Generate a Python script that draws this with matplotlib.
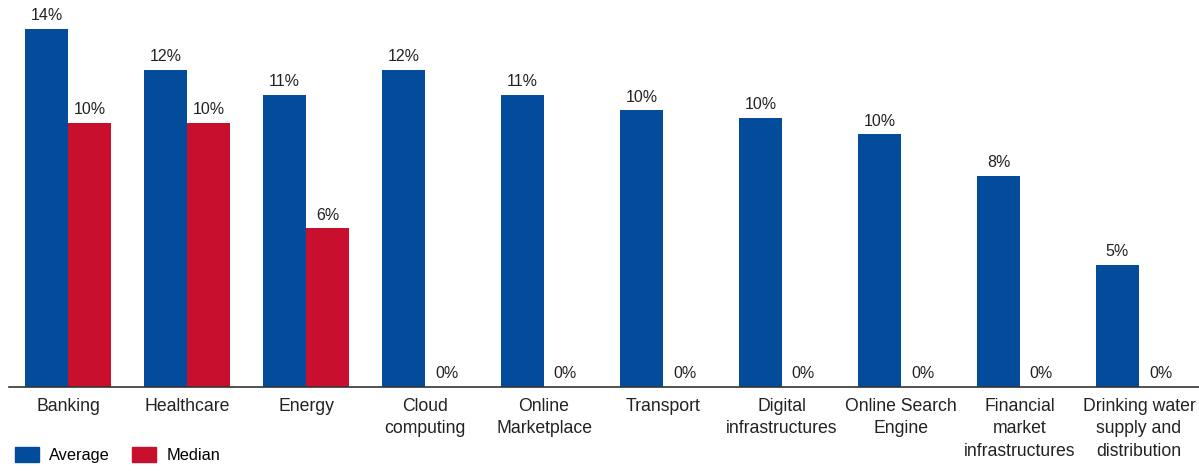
import matplotlib
matplotlib.use("Agg")
import matplotlib.pyplot as plt
import numpy as np
from matplotlib.patches import Patch

categories = ["Banking", "Healthcare", "Energy", "Cloud\ncomputing", "Online\nMarketplace",
              "Transport", "Digital\ninfrastructures", "Online Search\nEngine",
              "Financial\nmarket\ninfrastructures", "Drinking water\nsupply and\ndistribution"]
average = [13.54, 12.0, 11.06, 12.0, 11.06, 10.47, 10.17, 9.56, 7.98, 4.61]
median = [10.0, 10.0, 6.0, 0, 0, 0, 0, 0, 0, 0]

BLUE = "#034B9B"
RED = "#C8102E"

plt.rcParams['font.family'] = ['Liberation Sans', 'DejaVu Sans']

W, H = 1199, 471
fig = plt.figure(figsize=(W/100, H/100), dpi=100)
base = 386.5
ax = fig.add_axes([8.5/W, (H-base)/H, 1190/W, base/H])

x = np.arange(len(categories))
bw = 43/119
ax.bar(x - bw/2, average, width=bw, color=BLUE, label="Average")
ax.bar(x + bw/2, median, width=bw, color=RED, label="Median")

for xi, v in zip(x, average):
    ax.annotate(f"{v:.0f}%", (xi - bw/2, v), xytext=(0, 4), textcoords="offset points",
                ha="center", va="bottom", fontsize=11.5, color="#222222")
for xi, v in zip(x, median):
    ax.annotate(f"{v:.0f}%", (xi + bw/2, v), xytext=(0, 4), textcoords="offset points",
                ha="center", va="bottom", fontsize=11.5, color="#222222")

ax.set_xlim(-0.5, len(categories) - 0.5)
ax.set_ylim(0, base/26.4)
ax.set_xticks(x)
ax.set_xticklabels(categories, fontsize=12.7, color="#222222", linespacing=1.45)
ax.tick_params(axis="x", length=0, pad=8)
ax.set_yticks([])
for s in ["top", "left", "right"]:
    ax.spines[s].set_visible(False)
ax.spines["bottom"].set_color("#333333")
ax.spines["bottom"].set_linewidth(1.2)

handles = [Patch(color=BLUE, label="Average"), Patch(color=RED, label="Median")]
fig.legend(handles=handles, loc="center left", bbox_to_anchor=(15/W, 1 - 455/H), ncol=2,
           frameon=False, fontsize=11.8, handlelength=1.46, handleheight=1.04,
           handletextpad=0.6, columnspacing=1.4, borderpad=0, borderaxespad=0)

fig.savefig("out.png", dpi=100)
